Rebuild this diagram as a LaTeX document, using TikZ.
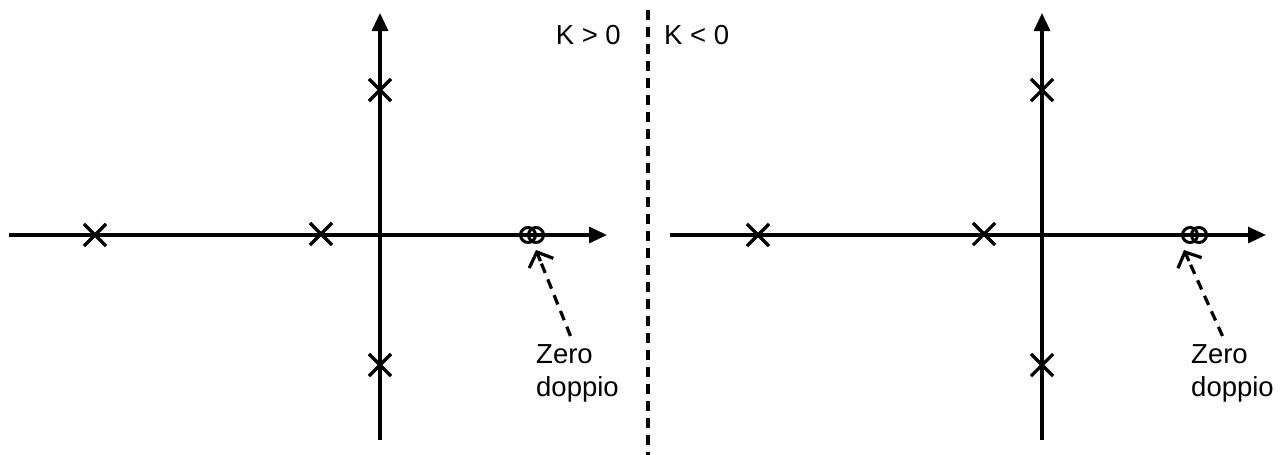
\documentclass[tikz,border=0pt]{standalone}
\usepackage{fontspec}
\setmainfont{Liberation Sans}
\usetikzlibrary{arrows.meta,shapes.misc,calc}

\tikzset{
    axis/.style={line width=3.2pt, -{Triangle[length=18pt,width=16pt]}},
    pole/.style={draw, cross out, line width=3.2pt, minimum size=19pt, inner sep=0pt},
    zero/.style={draw, circle, line width=3pt, minimum size=15pt, inner sep=0pt},
    note/.style={font=\fontsize{27.5}{33}\selectfont, align=left, inner sep=0pt},
    pointer/.style={line width=3.2pt, dash pattern=on 10pt off 7pt},
    barb/.style={line width=3.2pt, solid, -{Straight Barb[length=12pt,width=26pt]}}
}

\begin{document}
\begin{tikzpicture}[x=1pt, y=-1pt]
        \useasboundingbox (0,0) rectangle (1285,455);

        % separator between the two cases
        \draw[line width=3.2pt, dash pattern=on 10pt off 7pt] (648,10) -- (648,455);
        \node[note, anchor=east] (kpos) at (621,35) {K > 0};
        \node[note, anchor=west] (kneg) at (664,35) {K < 0};

        % Case 1: K > 0
        \begin{scope}[shift={(380,235)}]
            \draw[axis] (-371,0) -- (227,0);
            \draw[axis] (0,205) -- (0,-222);
            \node[pole] (p1a) at (-285,0) {};
            \node[pole] (p1b) at (-59,-1) {};
            \node[pole] (p1c) at (0,-145) {};
            \node[pole] (p1d) at (0,130) {};
            \node[zero] (z1a) at (148,0) {};
            \node[zero] (z1b) at (156,0) {};
            \node[note, anchor=west] (lbl1) at (156,138) {Zero\\doppio};
            \coordinate (t1) at ([xshift=-7pt,yshift=8pt]lbl1.north);
            \coordinate (h1) at ([yshift=-6pt]z1b.south);
            \draw[pointer] (t1) -- ($(h1)!12pt!(t1)$);
            \draw[barb] ($(h1)!12pt!(t1)$) -- (h1);
        \end{scope}

        % Case 2: K < 0
        \begin{scope}[shift={(1042,235)}]
            \draw[axis] (-372,0) -- (224,0);
            \draw[axis] (0,205) -- (0,-222);
            \node[pole] (p2a) at (-284,0) {};
            \node[pole] (p2b) at (-58,-1) {};
            \node[pole] (p2c) at (0,-145) {};
            \node[pole] (p2d) at (0,130) {};
            \node[zero] (z2a) at (148,0) {};
            \node[zero] (z2b) at (157,0) {};
            \node[note, anchor=west] (lbl2) at (149,138) {Zero\\doppio};
            \coordinate (t2) at ([xshift=-10pt,yshift=8pt]lbl2.north);
            \coordinate (h2) at ([xshift=-6pt,yshift=-6pt]z2a.south);
            \draw[pointer] (t2) -- ($(h2)!12pt!(t2)$);
            \draw[barb] ($(h2)!12pt!(t2)$) -- (h2);
        \end{scope}
    \end{tikzpicture}
\end{document}
